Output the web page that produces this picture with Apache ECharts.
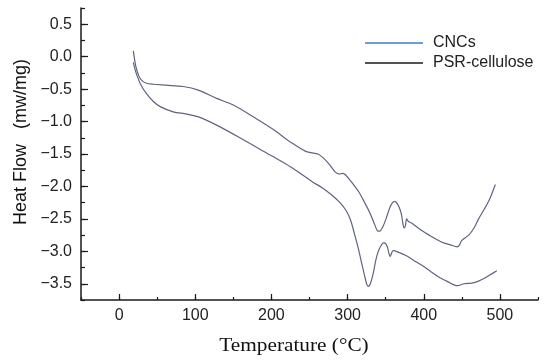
<!DOCTYPE html>
<html><head><meta charset="utf-8">
<script src="https://cdn.jsdelivr.net/npm/echarts@6/dist/echarts.min.js"></script>
<style>html,body{margin:0;padding:0;background:#fff}#c{width:550px;height:364px}</style>
</head><body><div id="c"></div>
<script>
var seriesNames = ['CNCs', 'PSR-cellulose'];
var cncTemp = [18.7,22,26,30,36,45,62,84,104,128,150,176,202,228,245,252,261,268,276,284,289,293,297,305,315,322,329,335,339,342,346,351,355,359,362,366,369,371,373,374.5,376,377.4,380,385,395,407,424,435,444,447,450,459,466,472,479,486,494];
var cncHeat = [0.09,-0.15,-0.30,-0.37,-0.41,-0.425,-0.44,-0.46,-0.515,-0.643,-0.746,-0.927,-1.12,-1.34,-1.46,-1.48,-1.50,-1.56,-1.66,-1.78,-1.81,-1.80,-1.82,-1.93,-2.09,-2.24,-2.40,-2.57,-2.68,-2.69,-2.63,-2.48,-2.34,-2.25,-2.23,-2.28,-2.36,-2.45,-2.60,-2.64,-2.60,-2.50,-2.54,-2.57,-2.66,-2.75,-2.86,-2.90,-2.93,-2.90,-2.83,-2.75,-2.64,-2.50,-2.36,-2.21,-1.97];
var psrTemp = [18.7,21,23.2,28,36,45,54,71,89,106,128,158,193,211,228,254,268,280,290,298,304,309,314,318,322,325,327,329,331,334,337,340,344,347,350,352.5,354,356,358,360,368,376,387,398,409,420,432,444,453,463,472,479,486,496];
var psrHeat = [-0.087,-0.20,-0.28,-0.42,-0.57,-0.69,-0.77,-0.85,-0.885,-0.936,-1.055,-1.245,-1.48,-1.60,-1.72,-1.93,-2.03,-2.14,-2.25,-2.37,-2.52,-2.73,-2.95,-3.16,-3.36,-3.50,-3.54,-3.52,-3.46,-3.32,-3.14,-3.01,-2.91,-2.87,-2.88,-2.94,-3.02,-3.08,-3.02,-2.99,-3.02,-3.06,-3.14,-3.22,-3.31,-3.40,-3.47,-3.53,-3.50,-3.49,-3.46,-3.42,-3.37,-3.30];
var xTitle = 'Temperature (\u00B0C)';
var yTitle = 'Heat Flow   (mw/mg)';

function pairs(t, v){ return t.map(function(x,i){ return [x, v[i]]; }); }
var lineColor = '#5f6480';
var axisColor = '#1a1a1a';
var sans = 'Liberation Sans, Arial, sans-serif';
var legendIcon = 'path://M0,0 H58 V1.6 H0 Z';

var chart = echarts.init(document.getElementById('c'), null, {renderer:'canvas'});
chart.setOption({
  animation:false,
  backgroundColor:'#fff',
  grid:[
    {left:81, right:12, top:8, bottom:64},
    {left:81, right:12, top:24.22, bottom:80.22},
    {left:119.08, right:50.08, top:8, bottom:64}
  ],
  legend:{
    orient:'vertical', left:360, top:30, itemWidth:58, itemHeight:1.6, itemGap:4,
    symbolKeepAspect:false,
    textStyle:{fontFamily:sans, fontSize:16, color:'#222', padding:[0,0,0,5]},
    data:[
      {name:seriesNames[0], icon:legendIcon, itemStyle:{color:'#3d7cc9'}},
      {name:seriesNames[1], icon:legendIcon, itemStyle:{color:'#1a1a1a'}}
    ]
  },
  xAxis:[
    {type:'value', gridIndex:0, min:-50, max:550, interval:50,
     axisLine:{show:true, onZero:false, lineStyle:{color:axisColor, width:1.5}},
     axisTick:{show:true, inside:true, length:3, lineStyle:{color:axisColor, width:1.2}},
     axisLabel:{show:false}, splitLine:{show:false}},
    {type:'value', gridIndex:1, min:-50, max:550, show:false},
    {type:'value', gridIndex:2, min:0, max:500, interval:100,
     axisLine:{show:false, onZero:false},
     axisTick:{show:true, inside:true, length:6, lineStyle:{color:axisColor, width:1.2}},
     axisLabel:{show:true, margin:8, fontFamily:sans, fontSize:16, color:'#222'},
     splitLine:{show:false}}
  ],
  yAxis:[
    {type:'value', gridIndex:0, min:-3.75, max:0.75, interval:0.25,
     axisLine:{show:true, onZero:false, lineStyle:{color:axisColor, width:1.5}},
     axisTick:{show:true, inside:true, length:4, lineStyle:{color:axisColor, width:1.2}},
     axisLabel:{show:false}, splitLine:{show:false}},
    {type:'value', gridIndex:1, min:-3.5, max:0.5, interval:0.5,
     axisLine:{show:false, onZero:false},
     axisTick:{show:true, inside:true, length:7, lineStyle:{color:axisColor, width:1.2}},
     axisLabel:{show:true, margin:9, fontFamily:sans, fontSize:16, color:'#222',
       formatter:function(v){ var s = Math.abs(v).toFixed(1); return (v < 0 ? '\u2212' : '') + s; }},
     splitLine:{show:false}},
    {type:'value', gridIndex:2, min:-3.75, max:0.75, show:false}
  ],
  graphic:[
    {type:'text', x:294, y:346, scaleX:1.12, style:{text:xTitle, font:'19px "Liberation Serif", "Times New Roman", serif', fill:'#111', align:'center', verticalAlign:'middle'}},
    {type:'text', x:21, y:142, rotation:Math.PI/2, style:{text:yTitle, font:'18px "Liberation Sans", Arial, sans-serif', fill:'#111', align:'center', verticalAlign:'middle'}}
  ],
  series:[
    {name:seriesNames[0], type:'line', xAxisIndex:0, yAxisIndex:0, data:pairs(cncTemp, cncHeat),
     symbol:'none', smooth:0.3, lineStyle:{color:lineColor, width:1.2}, itemStyle:{color:'#3d7cc9'}},
    {name:seriesNames[1], type:'line', xAxisIndex:0, yAxisIndex:0, data:pairs(psrTemp, psrHeat),
     symbol:'none', smooth:0.3, lineStyle:{color:lineColor, width:1.2}, itemStyle:{color:'#1a1a1a'}}
  ]
});
</script></body></html>
